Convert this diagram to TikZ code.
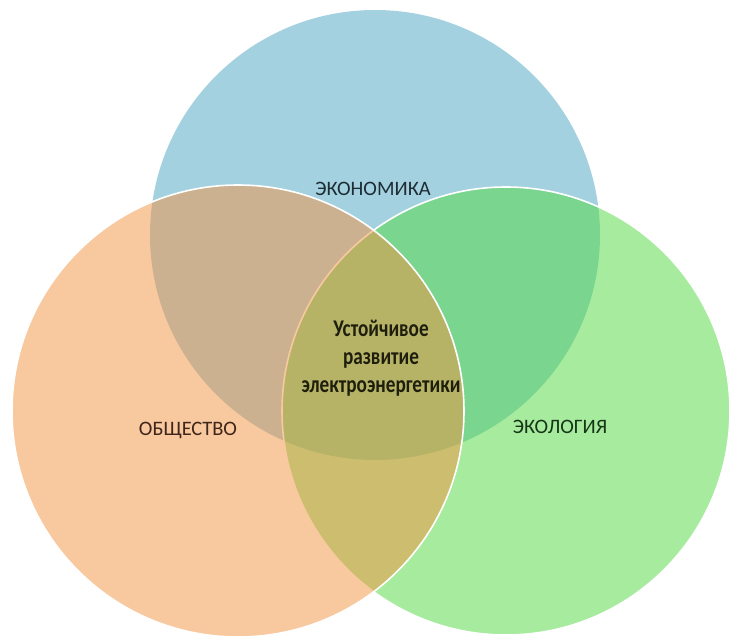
\documentclass[tikz,border=0pt]{standalone}
\usepackage{fontspec}
\setmainfont{Carlito}
\newfontfamily\lab{Carlito}
\newfontfamily\ctrfont[FakeStretch=0.8]{Carlito}
\definecolor{cblue}{HTML}{4BA5C1}
\definecolor{cgreen}{HTML}{51D941}
\definecolor{corange}{HTML}{F39341}
\definecolor{tblue}{HTML}{1E2C36}
\definecolor{tbrown}{HTML}{40261A}
\definecolor{tgreen}{HTML}{173517}
\definecolor{tcenter}{HTML}{1E1E0C}
\begin{document}
\begin{tikzpicture}[x=1pt,y=-1pt,
  venn/.style={circle, inner sep=0pt, fill opacity=0.5, draw opacity=1, line width=1.6pt},
  lbl/.style={font=\lab\fontsize{20.5}{22}\selectfont, inner sep=0pt},
  ctr/.style={font=\ctrfont\bfseries\fontsize{24}{28}\selectfont, align=center, inner sep=0pt, text=tcenter}]
\useasboundingbox (0,0) rectangle (729,639);
\fill[white] (0,0) rectangle (729,639);
\node[venn, fill=cblue, draw=none, minimum size=450pt] (econ) at (375,235) {};
\node[venn, fill=cgreen, draw=white, minimum size=448pt] (ecol) at (506,411) {};
\node[venn, fill=corange, draw=white, minimum size=452pt] (soc) at (238,411) {};
\node[lbl, text=tblue] (econt) at (373,189) {ЭКОНОМИКА};
\node[lbl, text=tbrown] (soct) at (188,430) {ОБЩЕСТВО};
\node[lbl, text=tgreen] (ecolt) at (560,427) {ЭКОЛОГИЯ};
\node[ctr] (center) at (381,358) {Устойчивое\\развитие\\электроэнергетики};
\end{tikzpicture}
\end{document}
